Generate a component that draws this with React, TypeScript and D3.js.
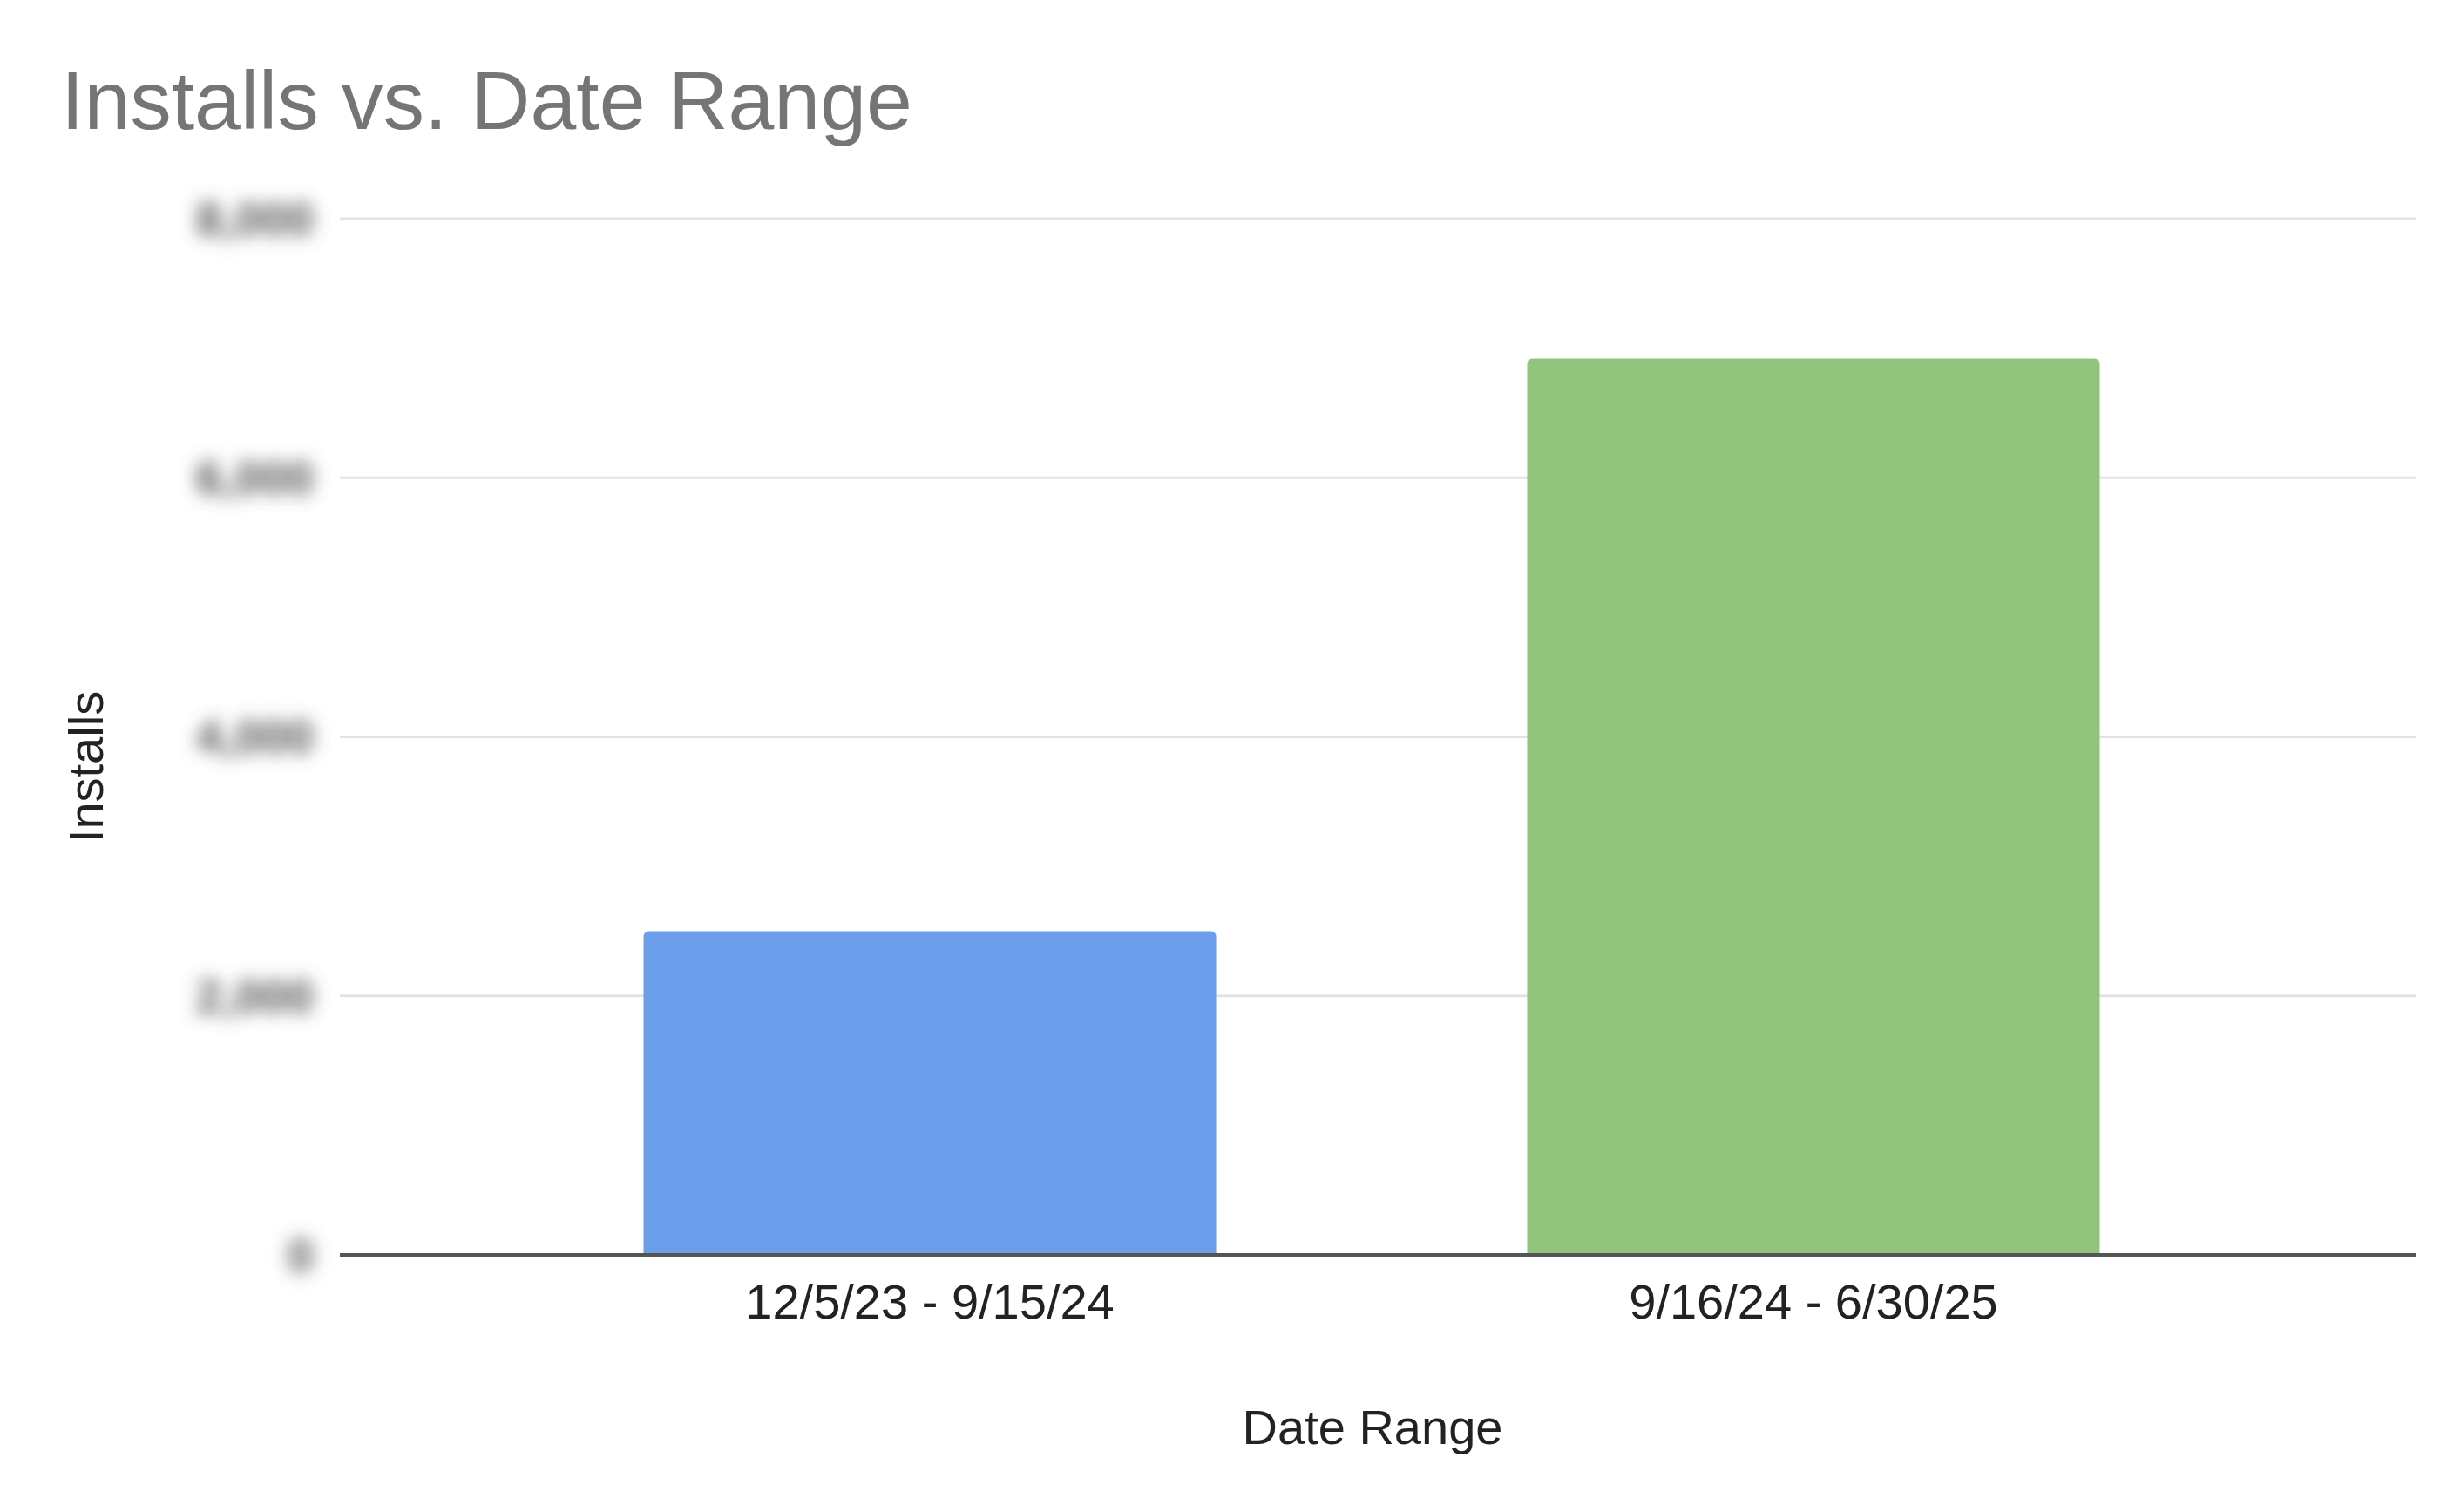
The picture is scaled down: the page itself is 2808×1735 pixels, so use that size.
import React from "react";
import * as d3 from "d3";

const categories: string[] = ["12/5/23 - 9/15/24", "9/16/24 - 6/30/25"];
const installs: number[] = [2500, 6920];
const barColors: string[] = ["#6d9eeb", "#93c47d"];
const yTicks: number[] = [0, 2000, 4000, 6000, 8000];

const W = 2808;
const H = 1735;
const FONT = "'Liberation Sans', Arial, Helvetica, sans-serif";

const plotLeft = 390;
const plotRight = 2772;
const plotTop = 251;
const plotBottom = 1440;

function topRoundedRect(x: number, y: number, w: number, h: number, r: number): string {
  const p = d3.path();
  p.moveTo(x, y + h);
  p.lineTo(x, y + r);
  p.arcTo(x, y, x + r, y, r);
  p.lineTo(x + w - r, y);
  p.arcTo(x + w, y, x + w, y + r, r);
  p.lineTo(x + w, y + h);
  p.closePath();
  return p.toString();
}

export default function App() {
  const y = d3.scaleLinear().domain([0, 8000]).range([plotBottom, plotTop]);
  const x = d3
    .scaleBand<string>()
    .domain(categories)
    .range([556, 2592])
    .paddingInner(0.352)
    .paddingOuter(0.18);
  const fmt = d3.format(",");

  return (
    <svg
      width={W}
      height={H}
      viewBox={`0 0 ${W} ${H}`}
      style={{ position: "fixed", left: 0, top: 0, background: "#ffffff" }}
    >
      <defs>
        <filter id="blurLabels" x="-50%" y="-100%" width="200%" height="300%">
          <feGaussianBlur stdDeviation="10" />
        </filter>
      </defs>
      <rect x={0} y={0} width={W} height={H} fill="#ffffff" />

      <text x={70} y={148} fontFamily={FONT} fontSize={95} fill="#757575">
        Installs vs. Date Range
      </text>

      {/* gridlines */}
      {yTicks
        .filter((t) => t !== 0)
        .map((t) => (
          <line
            key={`g${t}`}
            x1={plotLeft}
            x2={plotRight}
            y1={y(t)}
            y2={y(t)}
            stroke="#e3e3e3"
            strokeWidth={3}
          />
        ))}

      {/* y tick labels (blurred as in the reference) */}
      <g filter="url(#blurLabels)">
        {yTicks.map((t) => (
          <text
            key={`t${t}`}
            x={360}
            y={y(t)}
            dy="0.35em"
            textAnchor="end"
            fontFamily={FONT}
            fontSize={54}
            fontWeight="bold"
            fill="#555555"
          >
            {fmt(t)}
          </text>
        ))}
      </g>

      {/* bars */}
      {categories.map((c, i) => {
        const bx = x(c) as number;
        const by = y(installs[i]);
        return (
          <path
            key={c}
            d={topRoundedRect(bx, by, x.bandwidth(), plotBottom - by, 6)}
            fill={barColors[i]}
          />
        );
      })}

      {/* baseline */}
      <line
        x1={plotLeft}
        x2={plotRight}
        y1={y(0)}
        y2={y(0)}
        stroke="#555555"
        strokeWidth={4}
      />

      {/* x tick labels */}
      {categories.map((c) => (
        <text
          key={`x${c}`}
          x={(x(c) as number) + x.bandwidth() / 2}
          y={1513}
          textAnchor="middle"
          fontFamily={FONT}
          fontSize={56}
          fill="#222222"
        >
          {c}
        </text>
      ))}

      {/* axis titles */}
      <text
        x={1575}
        y={1657}
        textAnchor="middle"
        fontFamily={FONT}
        fontSize={56}
        fill="#222222"
      >
        Date Range
      </text>
      <text
        transform={`translate(118, 880) rotate(-90)`}
        textAnchor="middle"
        fontFamily={FONT}
        fontSize={56}
        fill="#222222"
      >
        Installs
      </text>
    </svg>
  );
}
